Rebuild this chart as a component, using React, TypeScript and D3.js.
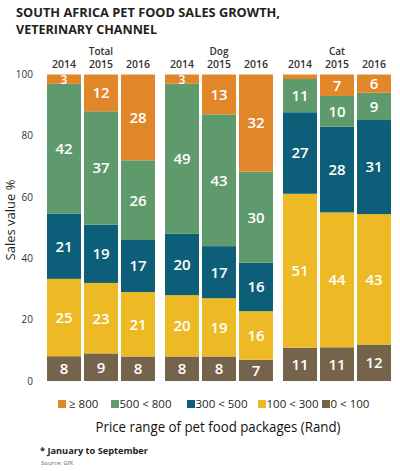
import React from 'react';
import * as d3 from 'd3';

// price bands, bottom of the stack first
const bands = ['0 < 100', '100 < 300', '300 < 500', '500 < 800', '≥ 800'];
const bandColors = ['#76634c', '#edba25', '#0d5e78', '#5f9a6c', '#e2862a'];

const groups = ['Total', 'Dog', 'Cat'];
const years = ['2014', '2015', '2016'];

// one value per bar: Total 2014..2016, Dog 2014..2016, Cat 2014..2016
const under100 = [8, 9, 8, 8, 8, 7, 11, 11, 12];
const from100to300 = [25, 23, 21, 20, 19, 16, 51, 44, 43];
const from300to500 = [21, 19, 17, 20, 17, 16, 27, 28, 31];
const from500to800 = [42, 37, 26, 49, 43, 30, 11, 10, 9];
const over800 = [3, 12, 28, 3, 13, 32, 1.5, 7, 6];

const yTicks = [0, 20, 40, 60, 80, 100];

const W = 400;
const H = 471;
const plotLeft = 47;
const plotRight = 391;
const plotTop = 74.5;
const plotBottom = 381;

const series = [under100, from100to300, from300to500, from500to800, over800];

type Row = { key: string; group: string; year: string; [band: string]: any };

const rows: Row[] = [];
groups.forEach((g, gi) =>
  years.forEach((y, yi) => {
    const i = gi * 3 + yi;
    const row: Row = { key: g + y, group: g, year: y };
    bands.forEach((b, bi) => (row[b] = series[bi][i]));
    rows.push(row);
  })
);

const legendX = [58, 111, 187, 258, 322];

export default function App() {
  const x0 = d3.scaleBand<string>().domain(groups).range([plotLeft, plotRight]).paddingInner(0.085);
  const x1 = d3.scaleBand<string>().domain(years).range([0, x0.bandwidth()]).paddingInner(0.081);
  const y = d3.scaleLinear().domain([0, 100]).range([plotBottom, plotTop]);

  const stacked = d3
    .stack<Row>()
    .keys(bands)
    .offset(d3.stackOffsetExpand)(rows);

  const font = '"Open Sans", sans-serif';

  return (
    <svg
      width={W}
      height={H}
      style={{ position: 'absolute', left: 0, top: 0, display: 'block', background: '#fff' }}
      fontFamily={font}
    >
      <text x={16} y={16.5} fontSize={13.2} fontWeight={700} fill="#231f20" textLength={264} lengthAdjust="spacingAndGlyphs">
        SOUTH AFRICA PET FOOD SALES GROWTH,
      </text>
      <text x={16} y={34} fontSize={13.2} fontWeight={700} fill="#231f20" textLength={141} lengthAdjust="spacingAndGlyphs">
        VETERINARY CHANNEL
      </text>

      {groups.map((g) => (
        <g key={g} transform={`translate(${x0(g)},0)`}>
          <text x={x0.bandwidth() / 2} y={55} textAnchor="middle" fontSize={10} fontWeight={600} fill="#333">
            {g}
          </text>
          {years.map((yr) => (
            <text key={yr} x={(x1(yr) ?? 0) + x1.bandwidth() / 2} y={67.5} textAnchor="middle" fontSize={10.5} fontWeight={600} fill="#333">
              {yr}
            </text>
          ))}
        </g>
      ))}

      {yTicks.map((t) => (
        <text key={t} x={33} y={y(t)} dy="0.35em" textAnchor="end" fontSize={10} fill="#333">
          {t}
        </text>
      ))}

      <text transform="translate(15,220) rotate(-90)" textAnchor="middle" fontSize={13} fill="#231f20">
        Sales value %
      </text>

      {stacked.map((layer, li) => (
        <g key={layer.key} fill={bandColors[li]}>
          {layer.map((d) => {
            const bx = (x0(d.data.group) ?? 0) + (x1(d.data.year) ?? 0);
            const top = y(d[1] * 100);
            const bot = y(d[0] * 100);
            const val = d.data[layer.key] as number;
            const tight = bot - top < 12;
            return (
              <g key={d.data.key}>
                <rect x={bx} y={top} width={x1.bandwidth()} height={bot - top} />
                {val >= 2 && (
                  <text
                    x={bx + x1.bandwidth() / 2}
                    y={tight ? bot + 0.7 : (top + bot) / 2}
                    dy={tight ? 0 : '0.36em'}
                    textAnchor="middle"
                    fontSize={tight ? 12 : 15}
                    fontWeight={600}
                    fill="#fff"
                  >
                    {val}
                  </text>
                )}
              </g>
            );
          })}
        </g>
      ))}

      {bands
        .map((b, i) => ({ b, c: bandColors[i] }))
        .reverse()
        .map((item, i) => (
          <g key={item.b} transform={`translate(${legendX[i]},400)`}>
            <rect width={8} height={8} fill={item.c} />
            <text x={item.b === '≥ 800' ? 11 : 8.5} y={8} fontSize={11.5} fill="#231f20">
              {item.b}
            </text>
          </g>
        ))}

      <text x={218} y={432} textAnchor="middle" fontSize={15} fill="#111" textLength={245} lengthAdjust="spacingAndGlyphs">
        Price range of pet food packages (Rand)
      </text>
      <text x={40} y={454} fontSize={9} fontWeight={700} fill="#231f20" textLength={108} lengthAdjust="spacingAndGlyphs">
        * January to September
      </text>
      <text x={41} y={465} fontSize={6} fill="#666">
        Source: GfK
      </text>
    </svg>
  );
}
